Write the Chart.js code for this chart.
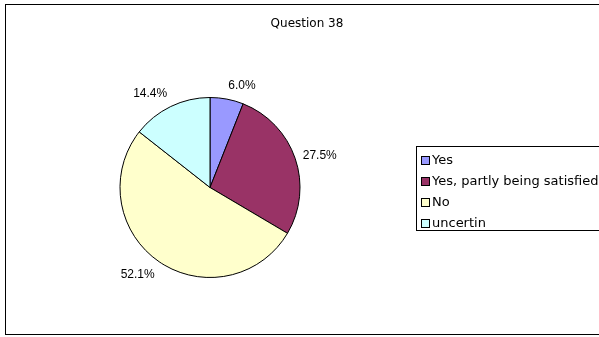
<!DOCTYPE html>
<html>
<head>
<meta charset="utf-8">
<script src="https://cdn.jsdelivr.net/npm/chart.js@4"></script>
<style>
  html, body { margin: 0; padding: 0; background: #fff; }
  #wrap { width: 599px; height: 337px; position: relative; }
</style>
</head>
<body>
<div id="wrap"><canvas id="pieChart" width="599" height="337"></canvas></div>
<script>
// ── Question 38 pie ──
const categories = ['Yes', 'Yes, partly being satisfied', 'No', 'uncertin'];
const shares = [6.0, 27.5, 52.1, 14.4];
const sliceColors = ['#9999FF', '#993366', '#FFFFCC', '#CCFFFF'];
const chartTitle = 'Question 38';

const FONT = "'Liberation Sans', Arial, sans-serif";
const WIDE = "'DejaVu Sans', sans-serif";

// frame + title
const framePlugin = {
  id: 'frame',
  beforeDraw(chart) {
    const ctx = chart.ctx;
    ctx.save();
    ctx.fillStyle = '#fff';
    ctx.fillRect(0, 0, chart.width, chart.height);
    ctx.strokeStyle = '#000';
    ctx.lineWidth = 1;
    ctx.strokeRect(5.5, 4.5, 700, 330);
    ctx.fillStyle = '#000';
    ctx.font = `12px ${WIDE}`;
    ctx.textAlign = 'center';
    ctx.textBaseline = 'middle';
    ctx.fillText(chartTitle, 307, 24);
    ctx.restore();
  }
};

// percentage labels outside each slice
const sliceLabels = {
  id: 'sliceLabels',
  afterDatasetsDraw(chart) {
    const ctx = chart.ctx;
    const arcs = chart.getDatasetMeta(0).data;
    ctx.save();
    ctx.fillStyle = '#000';
    ctx.font = `12px ${FONT}`;
    arcs.forEach((arc, i) => {
      const p = arc.getProps(['x', 'y', 'startAngle', 'endAngle', 'outerRadius'], true);
      const mid = (p.startAngle + p.endAngle) / 2;
      const c = Math.cos(mid), s = Math.sin(mid);
      const d = p.outerRadius + 8;
      ctx.textAlign = c > 0.1 ? 'left' : (c < -0.1 ? 'right' : 'center');
      ctx.textBaseline = s < -0.5 ? 'bottom' : (s > 0.5 ? 'top' : 'middle');
      ctx.fillText(shares[i].toFixed(1) + '%', p.x + c * d, p.y + s * d);
    });
    ctx.restore();
  }
};

// boxed legend on the right
const boxLegend = {
  id: 'boxLegend',
  afterDraw(chart) {
    const ctx = chart.ctx;
    const x0 = 416, y0 = 146, rowH = 21;
    ctx.save();
    ctx.strokeStyle = '#000';
    ctx.lineWidth = 1;
    ctx.strokeRect(x0 + 0.5, y0 + 0.5, 300, 84);
    ctx.font = `13px ${WIDE}`;
    ctx.textAlign = 'left';
    ctx.textBaseline = 'middle';
    chart.data.labels.forEach((lab, i) => {
      const y = y0 + 14 + i * rowH;
      ctx.fillStyle = sliceColors[i];
      ctx.fillRect(x0 + 5, y - 4, 8, 8);
      ctx.strokeStyle = '#000';
      ctx.strokeRect(x0 + 5.5, y - 3.5, 8, 8);
      ctx.fillStyle = '#000';
      ctx.fillText(lab, x0 + 16, y + 1);
    });
    ctx.restore();
  }
};

new Chart(document.getElementById('pieChart'), {
  type: 'pie',
  data: {
    labels: categories,
    datasets: [{
      data: shares,
      backgroundColor: sliceColors,
      borderColor: '#000',
      borderWidth: 1,
    }]
  },
  options: {
    responsive: false,
    animation: false,
    layout: { padding: { left: 119, right: 298, top: 97, bottom: 59 } },
    plugins: {
      legend: { display: false },
      tooltip: { enabled: false },
      title: { display: false }
    }
  },
  plugins: [framePlugin, sliceLabels, boxLegend]
});
</script>
</body>
</html>
